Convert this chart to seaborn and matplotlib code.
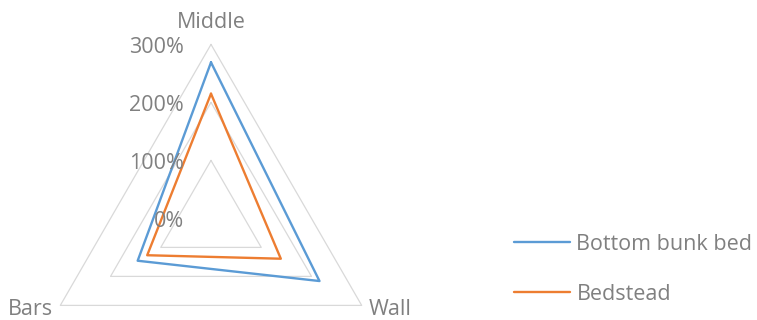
import numpy as np
import pandas as pd
import matplotlib
matplotlib.use("Agg")
import matplotlib.pyplot as plt
from matplotlib.transforms import offset_copy
from matplotlib.lines import Line2D
import seaborn as sns

# Radar data (values as fractions: 1.0 = 100%)
categories = ["Middle", "Wall", "Bars"]
bottom_bunk_bed = [2.69, 2.16, 1.46]
bedstead = [2.15, 1.39, 1.27]
series_names = ["Bottom bunk bed", "Bedstead"]
radial_ticks = [0, 1, 2, 3]
radial_labels = ["0%", "100%", "200%", "300%"]

BLUE = "#5B9BD5"
ORANGE = "#ED7D31"
GRID = "#D9D9D9"
TEXT = "#808080"

sns.set_theme(style="white")
plt.rcParams["font.family"] = ["Open Sans", "DejaVu Sans"]
FS = 15.5

W, H = 757, 320
fig = plt.figure(figsize=(W / 100, H / 100), dpi=100)
cx, cy, R = 211, 218.4, 174.0
ax = fig.add_axes([(cx - R) / W, (H - cy - R) / H, 2 * R / W, 2 * R / H],
                  projection="polar")
ax.set_theta_zero_location("N")
ax.set_theta_direction(-1)

angles = np.linspace(0, 2 * np.pi, len(categories), endpoint=False)
closed = np.append(angles, 2 * np.pi)

# triangular gridlines
for r in radial_ticks[1:]:
    ax.plot(closed, [r] * len(closed), color=GRID, lw=0.9, zorder=1, clip_on=False)

rows = []
for name, vals in zip(series_names, [bottom_bunk_bed, bedstead]):
    for th, v in zip(closed, list(vals) + [vals[0]]):
        rows.append({"theta": th, "value": v, "series": name})
df = pd.DataFrame(rows)

sns.lineplot(data=df, x="theta", y="value", hue="series", sort=False,
             estimator=None, palette=[BLUE, ORANGE], linewidth=1.7,
             legend=False, ax=ax, zorder=3)
for ln in ax.lines:
    ln.set_clip_on(False)

ax.set_ylim(0, radial_ticks[-1])
ax.axis("off")

# radial tick labels, to the left of the vertical axis
tick_tr = offset_copy(ax.transData, fig=fig, x=-27, y=-9, units="dots")
for r, lab in zip(radial_ticks, radial_labels):
    ax.text(0, r, lab, transform=tick_tr, ha="right", va="baseline",
            fontsize=FS, color=TEXT, clip_on=False)

# category labels
cat_offsets = [(0, 16, "center"), (7, -10, "left"), (-7, -10, "right")]
for th, lab, (dx, dy, ha) in zip(angles, categories, cat_offsets):
    tr = offset_copy(ax.transData, fig=fig, x=dx, y=dy, units="dots")
    ax.text(th, radial_ticks[-1], lab, transform=tr, ha=ha, va="baseline",
            fontsize=FS, color=TEXT, clip_on=False)

handles = [Line2D([], [], color=BLUE, lw=1.7), Line2D([], [], color=ORANGE, lw=1.7)]
fig.legend(handles, series_names, loc="center left",
           bbox_to_anchor=(514 / W, 1 - 269.2 / H), frameon=False,
           fontsize=FS, labelcolor=TEXT, handlelength=2.6, handletextpad=0.3,
           labelspacing=1.35, borderpad=0, borderaxespad=0)

fig.savefig("out.png", dpi=100)
